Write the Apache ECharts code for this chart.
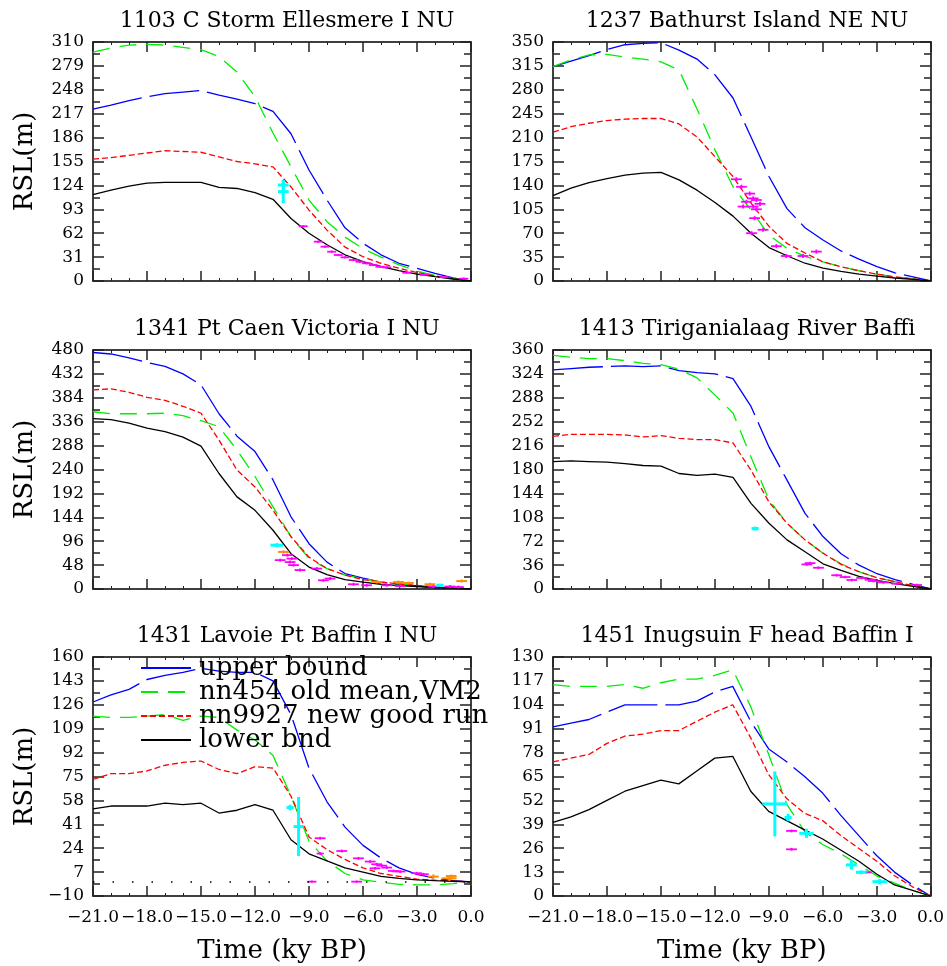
<!DOCTYPE html>
<html><head><meta charset="utf-8">
<script src="https://cdn.jsdelivr.net/npm/echarts@6/dist/echarts.min.js"></script>
<style>html,body{margin:0;padding:0;background:#fff}#c{width:947px;height:966px}</style>
</head><body><div id="c"></div>
<script>
// ---- data ----
const time = [-21,-20,-19,-18,-17,-16,-15,-14,-13,-12,-11,-10,-9,-8,-7,-6,-5,-4,-3,-2,-1,0];
const seriesNames = ['upper bound','nn454 old mean,VM2','nn9927 new good run','lower bnd'];
const titles = ['1103 C Storm Ellesmere I NU','1237 Bathurst Island NE NU','1341 Pt Caen Victoria I NU','1413 Tiriganialaag River Baffi','1431 Lavoie Pt Baffin I NU','1451 Inugsuin F head Baffin I'];
const yMin = [0,0,0,0,-10,0];
const yMax = [310,350,480,360,160,130];
const yStep = [31,35,48,36,17,13];

const upper1 = [223,228,234,239,243,245,247,241,236,230,220,191,144,105,69,49,34,23,16.5,10,4,0];
const mean1  = [297,302,306,307,306,303,300,291,271,239,192,148,105,77,57,42,31,21,13,7,3,0];
const new1   = [158,160,163,166,169,168,167,161,155,152,148,122,92,66,44,31.5,23,16.5,11,6.5,3,0];
const lower1 = [112,118,123,127,128,128,128,121.5,120,114.5,106,81,62,47,34,25,18.5,13.4,9,5.6,2.6,0];

const upper2 = [314,322,330,339,346,348,349,338,325,302,268,211,153,106,78,60,44,32,21,12,6,0];
const mean2  = [314,324,331,332,328,325,321,309,252,192,138,104,67,48,36,28,21,15,10,6,3,0];
const new2   = [218,226,231,235,237,238,238,230,211,182,153,114,80,55,41,28,21,15,10,6,3,0];
const lower2 = [125,136,144,150,155,158,159,148,133,115,95,70,49,37,26,19,14,10,7,4.4,2.4,0];

const upper3 = [475,472,464,455,447,432,410,352,307,276,219,145,91,54,31,22,14,9,6,3,1.5,0];
const mean3  = [356,352,352,352,353,348,338,326,279,226,165,105,61,41,28,21,14,10,7,4,2,0];
const new3   = [400,402,395,385,379,367,353,299,239,205,158,105,64,41,28,19,14,10,7,4,2,0];
const lower3 = [342,340,333,323,316,305,287,232,185,158,118,71,44,29,19,14,9.5,6.8,5,3,1.5,0];

const upper4 = [330,332,334,335,336,335,336,329,326,324,317,275,214,164,114,79,53,36,23,14,7,0];
const mean4  = [352,349,347,347,344,340,338,331,318,292,265,199,134,99,74,54,38,26,17,11,5,0];
const new4   = [230,233,233,233,232,229,231,227,225,225,220,179,131,99,74,54,37,26,17,11,5,0];
const lower4 = [192,193,192,191,189,186,185,174,171,173,168,129,99,74,56,38,28,19,13,8,4,0];

const upper5 = [128,133,137,144,147,149,152,150,149,149,143,119,81,57,39,26,17,10,5.4,2.6,0.9,0];
const mean5  = [118,117,117,118,119,115,118,117,108,101,90,61,29,15,6,1.5,-0.2,-1.7,-2.1,-2.1,-1.2,0];
const new5   = [73,77,77,79,83,85,86,80,77,82,81,61,32,23,16,10,6,4,2,1.2,0.7,0];
const lower5 = [52,54,54,54,56,55,56,49,51,55,51,30,20,15,10,7,4,2.6,1.4,0.9,0.5,0];
const zeroLevel = 0;

const upper6 = [92,94,96,100,104,104,104,104,106,111,114,95,80,73,65,56,44,33,22,13,6,0];
const mean6  = [115,114,114,114,115,113,116,118,118,120,123,103,77,50,35,28,23,17,11,7,3,0];
const new6   = [73,75,77,83,87,88,90,90,95,100,104,86,66,53,45,41,33,26,19,11,5,0];
const lower6 = [40,43,47,52,57,60,63,61,68,75,76,57,46,41,36,31,25,19,12,6,3,0];

// observations: [age, rsl, ageErr, rslErr]
const obs1Cyan = [[-10.43,124.5,0.3,6],[-10.43,116,0.3,15]];
const obs1Mag = [[-9.32,71,0.25,1.5],[-8.48,51,0.25,1.5],[-8.11,44.5,0.25,1.5],[-7.74,38,0.25,1.5],[-7.37,33.7,0.25,1.5],[-7.0,30.7,0.25,1.5],[-6.54,27.2,0.25,1.5],[-6.17,25,0.25,1.5],[-5.8,23,0.25,1.5],[-5.43,20.7,0.25,1.5],[-5.06,18.5,0.25,1.5],[-4.68,17.7,0.25,1.5],[-3.57,10.8,0.25,1.5],[-2.6,8,0.25,1.5],[-1.5,5,0.25,1.5],[-0.4,3,0.25,1.5]];
const obs1Orange = [];

const obs2Cyan = [];
const obs2Mag = [[-10.81,149,0.3,3],[-10.53,138,0.3,3],[-10.07,128,0.3,3],[-9.88,121,0.3,3],[-9.7,118.6,0.3,3],[-10.25,116,0.3,3],[-9.88,109,0.3,3],[-9.5,113,0.3,3],[-10.44,109,0.3,3],[-9.7,105,0.3,3],[-9.8,92,0.3,3],[-9.97,70,0.3,3],[-9.33,75,0.3,3],[-8.59,51,0.3,3],[-8.04,36.6,0.3,3],[-7.11,36.6,0.3,3],[-6.37,43,0.3,3]];
const obs2Orange = [];

const obs3Cyan = [[-10.79,88,0.35,4],[-1.72,7.5,0.2,3]];
const obs3Mag = [[-10.6,58,0.3,3],[-10.05,54,0.3,3],[-9.86,48,0.3,3],[-9.95,61,0.3,3],[-10.2,68,0.3,3],[-9.5,38,0.3,3],[-8.57,41,0.3,3],[-8.2,17.5,0.3,3],[-7.83,21,0.3,3],[-6.53,9.5,0.3,3],[-5.8,7.5,0.3,3],[-4.68,7.5,0.3,3],[-3.94,6,0.3,3],[-2.1,5,0.3,3],[-1.17,5,0.3,3],[-0.7,4,0.3,3]];
const obs3Orange = [[-10.42,74.5,0.3,3],[-5.24,14,0.3,3],[-4.03,14,0.3,3],[-3.48,12,0.3,3],[-2.28,9.5,0.3,3],[-0.52,16,0.3,3]];

const obs4Cyan = [[-9.77,91,0.2,3]];
const obs4Mag = [[-6.9,37,0.3,2],[-6.72,39,0.3,2],[-6.25,32,0.3,2],[-5.24,20.7,0.3,2],[-4.77,18,0.3,2],[-4.4,13.6,0.3,2],[-3.85,16.6,0.3,2],[-3.39,14,0.3,2],[-3.2,12,0.3,2],[-2.64,10,0.3,2],[-1.9,8,0.3,2],[-0.8,6,0.3,2]];
const obs4Orange = [];

const obs5Cyan = [[-9.58,39.4,0.28,21],[-10.05,52.9,0.2,2]];
const obs5Mag = [[-8.84,0.2,0.25,0.8],[-8.38,31.1,0.3,1],[-8.38,20.2,0.2,1],[-7.18,22,0.3,1],[-6.25,16.8,0.3,1],[-6.35,0.2,0.3,0.8],[-5.6,14.5,0.3,1],[-5.24,12.6,0.3,1],[-4.96,11.6,0.3,1],[-4.68,10.2,0.3,1],[-5.33,9.7,0.3,1],[-4.31,7.8,0.3,1],[-3.94,7.4,0.3,1],[-3.02,6.2,0.3,1],[-2.65,5.5,0.3,1]];
const obs5Orange = [[-2.09,3.8,0.3,1.5],[-1.2,2.6,0.4,2],[-1.1,4.2,0.3,1]];

const obs6Cyan = [[-8.66,50.1,0.69,17.7],[-7.92,42.7,0.2,2],[-6.9,34.1,0.4,2.5],[-4.4,16.9,0.3,2.5],[-3.85,12.9,0.3,1],[-2.83,7.8,0.4,1.5]];
const obs6Mag = [[-7.73,35.4,0.3,0.8],[-7.73,25.4,0.3,0.8],[-3.57,12.9,0.3,0.8]];
const obs6Orange = [];

// ---- build ----
const FONT = '"DejaVu Serif", serif';
const curves = [
  [upper1,mean1,new1,lower1],[upper2,mean2,new2,lower2],[upper3,mean3,new3,lower3],
  [upper4,mean4,new4,lower4],[upper5,mean5,new5,lower5],[upper6,mean6,new6,lower6]];
const obsCyan = [obs1Cyan,obs2Cyan,obs3Cyan,obs4Cyan,obs5Cyan,obs6Cyan];
const obsMag = [obs1Mag,obs2Mag,obs3Mag,obs4Mag,obs5Mag,obs6Mag];
const obsOrange = [obs1Orange,obs2Orange,obs3Orange,obs4Orange,obs5Orange,obs6Orange];

const lineStyles = [
  {color:'#0000ff', type:[50,8]},
  {color:'#00ee00', type:[17,10]},
  {color:'#ff0000', type:[6,3]},
  {color:'#000000', type:'solid'}];

const gridLeft = [93,553,93,553,93,553];
const gridTop = [42,42,350,350,657,657];
const GW = 378, GH = 239;

const minus = v => (v < 0 ? '\u2212' : '') + Math.abs(v);
const grids = [], xAxes = [], yAxes = [], series = [], titleArr = [];
for (let i = 0; i < 6; i++) {
  grids.push({left: gridLeft[i], top: gridTop[i], width: GW, height: GH, containLabel: false});
  titleArr.push({text: titles[i], left: gridLeft[i] + GW/2, top: gridTop[i] - 37, textAlign: 'center',
    textStyle: {fontFamily: FONT, fontSize: 22, fontWeight: 'normal', color: '#000'}});
  const bottomRow = i >= 4;
  const xBase = {type:'value', gridIndex:i, min:-21, max:0, interval:3,
    axisLine:{show:true, onZero:false, lineStyle:{color:'#000', width:1.5}},
    axisTick:{show:true, inside:true, length:10, lineStyle:{color:'#222', width:1.5}},
    minorTick:{show:true, splitNumber:3, length:3, lineStyle:{color:'#222', width:1}},
    splitLine:{show:false}};
  xAxes.push(Object.assign({}, xBase, {position:'bottom',
    axisLabel:{show:bottomRow, color:'#000', fontFamily:FONT, fontSize:17, margin:13,
      showMinLabel:true, showMaxLabel:true, hideOverlap:false,
      formatter: v => (v < 0 ? '\u2212' : '') + Math.abs(v).toFixed(1)},
    name: bottomRow ? 'Time (ky BP)' : '', nameLocation:'middle', nameGap:42,
    nameTextStyle:{fontFamily:FONT, fontSize:26, color:'#000'}}));
  const yBase = {type:'value', gridIndex:i, min:yMin[i], max:yMax[i], interval:yStep[i],
    axisLine:{show:true, onZero:false, lineStyle:{color:'#000', width:1.5}},
    axisTick:{show:true, inside:true, length:11, lineStyle:{color:'#222', width:1.5}},
    minorTick:{show:true, splitNumber:2, length:7, lineStyle:{color:'#222', width:1.5}},
    splitLine:{show:false}};
  yAxes.push(Object.assign({}, yBase, {position:'left',
    axisLabel:{show:true, color:'#000', fontFamily:FONT, fontSize:17, margin:9, formatter: minus,
      showMinLabel:true, showMaxLabel:true},
    name: (i % 2 === 0) ? 'RSL(m)' : '', nameLocation:'middle', nameGap:55,
    nameTextStyle:{fontFamily:FONT, fontSize:26, color:'#000'}}));
}
for (let i = 0; i < 6; i++) {
  xAxes.push({type:'value', gridIndex:i, min:-21, max:0, interval:3, position:'top',
    axisLine:{show:true, onZero:false, lineStyle:{color:'#000', width:1.5}},
    axisTick:{show:true, inside:true, length:10, lineStyle:{color:'#222', width:1.5}},
    minorTick:{show:true, splitNumber:3, length:3, lineStyle:{color:'#222', width:1}},
    axisLabel:{show:false}, splitLine:{show:false}});
  yAxes.push({type:'value', gridIndex:i, min:yMin[i], max:yMax[i], interval:yStep[i], position:'right',
    axisLine:{show:true, onZero:false, lineStyle:{color:'#000', width:1.5}},
    axisTick:{show:true, inside:true, length:11, lineStyle:{color:'#222', width:1.5}},
    minorTick:{show:true, splitNumber:2, length:7, lineStyle:{color:'#222', width:1.5}},
    axisLabel:{show:false}, splitLine:{show:false}});
}

function errRender(color, width) {
  return function (params, api) {
    const x = api.value(0), y = api.value(1), dx = api.value(2), dy = api.value(3);
    const a = api.coord([x - dx, y]), b = api.coord([x + dx, y]);
    const c = api.coord([x, y - dy]), d = api.coord([x, y + dy]);
    const st = {stroke: color, lineWidth: width};
    return {type:'group', children:[
      {type:'line', shape:{x1:a[0], y1:a[1], x2:b[0], y2:b[1]}, style:st},
      {type:'line', shape:{x1:c[0], y1:c[1], x2:d[0], y2:d[1]}, style:st}]};
  };
}

for (let i = 0; i < 6; i++) {
  for (let k = 0; k < 4; k++) {
    const s = {type:'line', name: seriesNames[k], xAxisIndex:i, yAxisIndex:i,
      data: time.map((t, j) => [t, curves[i][k][j]]),
      symbol:'none', silent:true, z: 2,
      lineStyle:{color: lineStyles[k].color, width:1.3, type: lineStyles[k].type},
      itemStyle:{color: lineStyles[k].color}};
    if (i === 4 && k === 3) {
      s.markLine = {silent:true, symbol:'none', label:{show:false}, animation:false,
        lineStyle:{color:'#000', type:[1.5,18], width:1.5},
        data:[{yAxis: zeroLevel}]};
    }
    series.push(s);
  }
  const obsSets = [[obsMag[i], '#ff00ff', 1.8], [obsOrange[i], '#ff8c00', 2], [obsCyan[i], '#00ffff', 3]];
  obsSets.forEach(([d, col, w]) => {
    if (!d.length) return;
    series.push({type:'custom', xAxisIndex:i, yAxisIndex:i, data:d, silent:true, z:3,
      renderItem: errRender(col, w)});
  });
}

const chart = echarts.init(document.getElementById('c'), null, {renderer:'canvas'});
chart.setOption({
  animation:false,
  backgroundColor:'#fff',
  title: titleArr,
  grid: grids, xAxis: xAxes, yAxis: yAxes, series: series,
  legend: {data: seriesNames, orient:'vertical', left:140, top:655, padding:0, itemWidth:50, itemHeight:14,
    itemGap:-2, selectedMode:false, z:10,
    itemStyle:{opacity:0},
    textStyle:{fontFamily:FONT, fontSize:26, color:'#000', lineHeight:23, padding:[0,0,0,3]}}
});
</script></body></html>
